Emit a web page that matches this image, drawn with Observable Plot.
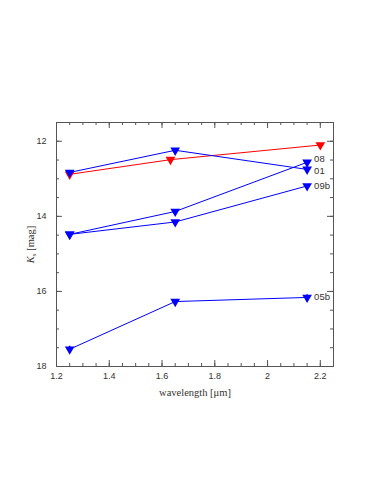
<!DOCTYPE html>
<html><head><meta charset="utf-8">
<script src="https://cdn.jsdelivr.net/npm/d3@7"></script>
<script src="https://cdn.jsdelivr.net/npm/@observablehq/plot@0.6"></script>
<style>body{margin:0;background:#fff}</style>
</head><body><div id="chart"></div>
<script>
const wavelengths = [1.25, 1.65, 2.15];
const redWavelengths = [1.25, 1.632, 2.2];
const red = [12.88, 12.49, 12.1];
const s01 = [12.83, 12.24, 12.75];
const s08 = [14.48, 13.87, 12.56];
const s09b = [14.48, 14.15, 13.19];
const s05b = [17.54, 16.27, 16.16];
const err05b = [0.08, 0.04, 0.07];
const blueSeries = [["01", s01], ["08", s08], ["09b", s09b], ["05b", s05b]];
const xMajor = [1.2, 1.4, 1.6, 1.8, 2, 2.2];
const xMinor = d3.range(1.2, 2.2501, 0.05);
const yMajor = [12, 14, 16, 18];
const yMinor = d3.range(11.5, 18.001, 0.5);

const W = 370, H = 490, mL = 56, mR = 37, mT = 122, mB = 124;
const iW = W - mL - mR, iH = H - mT - mB;

const blue = blueSeries.flatMap(([name, vals]) => vals.map((v, i) => ({name, x: wavelengths[i], y: v, e: name === "05b" ? err05b[i] : 0})));
const redData = red.map((v, i) => ({x: redWavelengths[i], y: v}));
const labels = blue.filter(d => d.x === 2.15);

const tickColor = "#555";
const labelOpts = {x: "x", y: "y", text: "name", dx: 7, textAnchor: "start", fontSize: 9.5, fill: "#333"};
const plot = Plot.plot({
  width: W, height: H,
  marginLeft: mL, marginRight: mR, marginTop: mT, marginBottom: mB,
  style: {fontFamily: "Liberation Sans, sans-serif", fontSize: "9px", color: "#333"},
  x: {domain: [1.2, 2.25], label: null},
  y: {domain: [11.5, 18], reverse: true, label: null},
  marks: [
    Plot.frame({stroke: tickColor}),
    Plot.axisX(xMajor, {anchor: "bottom", tickSize: 0, tickPadding: 6, tickFormat: d => String(d)}),
    Plot.axisY(yMajor, {anchor: "left", tickSize: 0, tickPadding: 10, tickFormat: d => String(d)}),
    Plot.ruleX(xMajor, {x: d => d, insetTop: iH - 6, stroke: tickColor}),
    Plot.ruleX(xMinor, {x: d => d, insetTop: iH - 3, stroke: tickColor}),
    Plot.ruleX(xMajor, {x: d => d, insetBottom: iH - 6, stroke: tickColor}),
    Plot.ruleX(xMinor, {x: d => d, insetBottom: iH - 3, stroke: tickColor}),
    Plot.ruleY(yMajor, {y: d => d, insetRight: iW - 6, stroke: tickColor}),
    Plot.ruleY(yMinor, {y: d => d, insetRight: iW - 3, stroke: tickColor}),
    Plot.ruleY(yMajor, {y: d => d, insetLeft: iW - 6, stroke: tickColor}),
    Plot.ruleY(yMinor, {y: d => d, insetLeft: iW - 3, stroke: tickColor}),
    Plot.line(redData, {x: "x", y: "y", stroke: "#ff0000", strokeWidth: 1}),
    Plot.dot(redData, {x: "x", y: "y", symbol: "triangle", rotate: 180, r: 3.6, fill: "#ff0000"}),
    Plot.line(blue, {x: "x", y: "y", z: "name", stroke: "#0000ff", strokeWidth: 1}),
    Plot.ruleX(blue.filter(d => d.e > 0), {x: "x", y1: d => d.y - d.e, y2: d => d.y + d.e, stroke: "#0000ff", strokeWidth: 1.5}),
    Plot.dot(blue, {x: "x", y: "y", symbol: "triangle", rotate: 180, r: 3.6, fill: "#0000ff"}),
    Plot.text(labels.filter(d => d.name === "08"), {...labelOpts, dy: -3}),
    Plot.text(labels.filter(d => d.name === "01"), {...labelOpts, dy: 2}),
    Plot.text(labels.filter(d => d.name === "09b" || d.name === "05b"), labelOpts),
    Plot.text(["wavelength [μm]"], {frameAnchor: "bottom", dy: 29, fontFamily: "Liberation Serif, serif", fontSize: 10.5, fill: "#333"}),
    Plot.text(["K"], {frameAnchor: "left", dx: -26, rotate: -90, fontFamily: "Liberation Serif, serif", fontSize: 10.5, fill: "#333", text: d => d})
  ]
});
const svg = d3.select(plot);
const yl = svg.selectAll("text").filter(function(){ return this.textContent === "K"; });
yl.text(null);
yl.append("tspan").attr("font-style", "italic").text("K");
yl.append("tspan").attr("font-style", "italic").attr("font-size", "7px").attr("dy", "2").text("s");
yl.append("tspan").attr("font-style", "normal").attr("dy", "-2").text(" [mag]");
yl.attr("text-anchor", "middle");
document.getElementById("chart").appendChild(plot);
</script>
</body></html>
